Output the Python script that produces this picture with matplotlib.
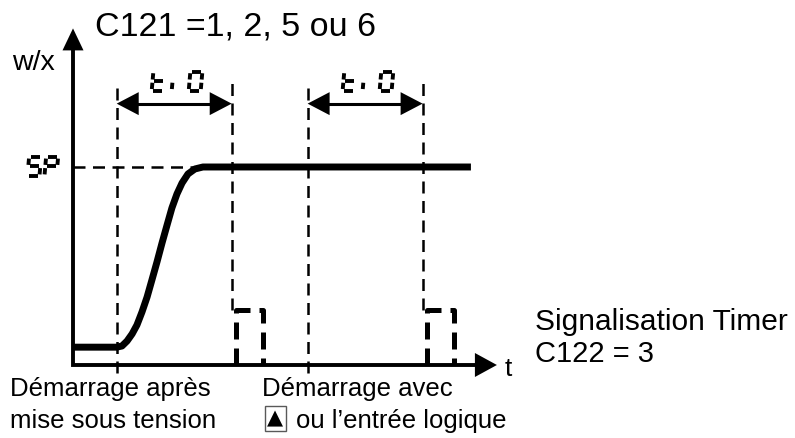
import numpy as np
import matplotlib.pyplot as plt
import matplotlib.transforms as mtransforms

plt.rcParams['font.family'] = ['Liberation Sans', 'DejaVu Sans']

# timing (time units) and levels (% of SP)
timer_t0 = 5.0
timer_starts = [1.9, 10.2]
pulse_width = 1.2
pulse_height = 28
sp_level = 100
init_level = 9
t_axis_end = 18.43
w_axis_end = 170
marker_top = 143
arrow_level = 132

# setpoint ramp
curve_t = [0, 1.9, 2.13, 2.35, 2.57, 2.78, 3.0, 3.22, 3.43, 3.65, 3.87, 4.09,
           4.30, 4.52, 4.74, 5.0, 5.3, 5.65, 17.3]
curve_w = [9, 9, 9.6, 12.1, 15.7, 20.2, 26.8, 34.3, 42.9, 52.0, 61.6, 70.7,
           79.3, 86.4, 91.9, 96.5, 99.0, 100, 100]

title = "C121 =1, 2, 5 ou 6"
y_label = "w/x"
x_label = "t"
timer_label = "ti0"
sp_label = "5P"
signal_lines = ["Signalisation Timer", "C122 = 3"]
start_labels = [["Démarrage après", "mise sous tension"],
                ["Démarrage avec", "ou l’entrée logique"]]

W, H = 795, 438
fig = plt.figure(figsize=(W / 100, H / 100), dpi=100)
ax = fig.add_axes([0, 0, 1, 1])
ax.set_xlim(-3.174, 31.39)
ax.set_ylim(-36.87, 184.34)
ax.axis('off')

dx = (31.39 + 3.174) / W   # data units per pixel
dy = (184.34 + 36.87) / H


def head(x, y, angle, length=22, width=21):
    tri = np.array([[0, 0], [-length, width / 2], [-length, -width / 2]])
    tr = mtransforms.Affine2D().rotate_deg(angle) + \
        mtransforms.ScaledTranslation(x, y, ax.transData)
    ax.add_patch(plt.Polygon(tri, closed=True, transform=tr, fc='black', lw=0))


# seven segment display glyphs
SEG = {'a': ((0, 1), (1, 1)), 'b': ((1, 1), (1, .5)), 'c': ((1, .5), (1, 0)),
       'd': ((0, 0), (1, 0)), 'e': ((0, 0), (0, .5)), 'f': ((0, .5), (0, 1)),
       'g': ((0, .5), (1, .5))}
GLYPHS = {'t': 'defg', 'i': 'e', '0': 'abcdef', '5': 'acdfg', 'P': 'abefg'}
ADV = {'t': 20, 'i': 17, '0': 16, '5': 17, 'P': 16}


def seven_seg(text, xc, y, w=12, h=19, lw=2.8):
    total = sum(ADV[c] for c in text[:-1]) + w
    x0 = -total / 2
    off = mtransforms.ScaledTranslation(xc, y, ax.transData)
    for ch in text:
        tr = mtransforms.Affine2D().skew_deg(5, 0).translate(x0, 0) + off
        for s in GLYPHS[ch]:
            (ax_, ay_), (bx_, by_) = SEG[s]
            p = np.array([ax_ * w, ay_ * h])
            q = np.array([bx_ * w, by_ * h])
            u = (q - p) / np.hypot(*(q - p))
            p, q = p + 1.6 * u, q - 1.6 * u
            ax.plot([p[0], q[0]], [p[1], q[1]], color='black', lw=lw,
                    solid_capstyle='butt', transform=tr)
        x0 += ADV[ch]


# axes with arrow heads
ax.plot([0, 0, t_axis_end - 20 * dx], [w_axis_end - 20 * dy, 0, 0],
        color='black', lw=2.8, solid_joinstyle='miter')
head(0, w_axis_end, 90)
head(t_axis_end, 0, 0, width=24)

# setpoint dashed line
dash = dict(color='black', lw=1.8, dashes=(4.8, 3.0))
ax.plot([0, curve_t[-2]], [sp_level, sp_level], **dash)
seven_seg(sp_label, -1.35, sp_level - 9 * dy)

# timer markers, double arrows and pulses
for s in timer_starts:
    e = s + timer_t0
    ax.plot([s, s], [-4, marker_top], **dash)
    ax.plot([e, e], [pulse_height, marker_top], **dash)
    ax.plot([s + 20 * dx, e - 20 * dx], [arrow_level, arrow_level],
            color='black', lw=2.2)
    head(s, arrow_level, 180, width=23)
    head(e, arrow_level, 0, width=23)
    seven_seg(timer_label, (s + e) / 2 + 2 * dx, arrow_level + 13 * dy)
    ax.plot([e + 4 * dx, e + 4 * dx, e + 4 * dx + pulse_width, e + 4 * dx + pulse_width],
            [0, pulse_height, pulse_height, 0],
            color='black', lw=3.6, dashes=(3.4, 1.8), solid_joinstyle='miter')

# setpoint ramp
ax.plot(curve_t, curve_w, color='black', lw=5, solid_capstyle='butt',
        solid_joinstyle='round')

# texts (positions in pixels of the 795x438 picture)
def txt(px, py, s, size, **kw):
    ax.text(px / W, 1 - py / H, s, fontsize=size, transform=ax.transAxes,
            ha='left', va='baseline', **kw)


txt(95, 36, title, 24.5)
txt(12, 70, y_label, 20.5)
txt(505, 376, x_label, 19)
txt(535, 330, signal_lines[0], 21.5)
txt(535, 362, signal_lines[1], 21)
txt(10, 396, start_labels[0][0], 18.5)
txt(10, 428, start_labels[0][1], 18.5)
txt(262, 396, start_labels[1][0], 18.5)
txt(296, 428, start_labels[1][1], 18.5)
ax.text(275 / W, 1 - 418 / H, "▲", fontsize=15, transform=ax.transAxes,
        ha='center', va='center', family=['DejaVu Sans'],
        bbox=dict(boxstyle='square,pad=0.12', fc='white', ec='0.35', lw=1))

fig.savefig('out.png', dpi=100)
